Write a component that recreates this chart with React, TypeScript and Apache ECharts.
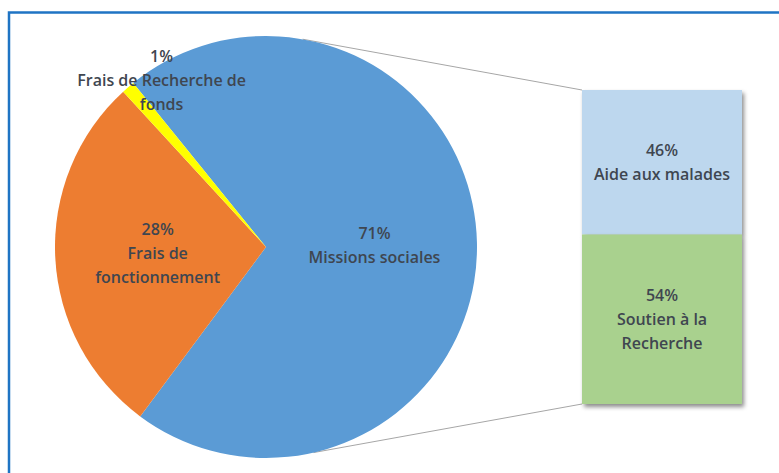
import React, { useEffect, useRef } from 'react';
import * as echarts from 'echarts';

const pieNames = ['Missions sociales', 'Frais de\nfonctionnement', 'Frais de Recherche de\nfonds'];
const pieValues = [71, 28, 1];
const pieColors = ['#5B9BD5', '#ED7D31', '#FFFF00'];

const barCategory = ['Missions sociales'];
const barNames = ['Soutien à la\nRecherche', 'Aide aux malades'];
const barValues = [54, 46];
const barColors = ['#A9D18E', '#BDD7EE'];

export default function App() {
  const ref = useRef<HTMLDivElement>(null);
  useEffect(() => {
    const chart = echarts.init(ref.current!, null, { renderer: 'svg' });
    const cx = 266, cy = 247, r = 211;
    const gLeft = 582, gTop = 90, gWidth = 160, gHeight = 314;
    const font = { fontFamily: 'Open Sans', fontSize: 16, fontWeight: 600, color: '#3F4650', lineHeight: 24 };

    const degToPt = (deg: number, rad: number) => {
      const a = (deg * Math.PI) / 180;
      return [cx + rad * Math.sin(a), cy - rad * Math.cos(a)];
    };
    const pTop = degToPt(10, r);
    const pBot = degToPt(167, r);
    const smallLabel = degToPt(328, 197);

    chart.setOption({
      animation: false,
      grid: { left: gLeft, top: gTop, width: gWidth, height: gHeight },
      xAxis: { type: 'category', data: barCategory, show: false },
      yAxis: { type: 'value', min: 0, max: 100, show: false },
      series: [
        {
          type: 'pie',
          center: [cx, cy],
          radius: r,
          startAngle: 129,
          clockwise: true,
          data: pieNames.map((n, i) => ({ name: n, value: pieValues[i], itemStyle: { color: pieColors[i] } })),
          label: { show: true, position: 'inside', formatter: '{c}%\n{b}', ...font },
          labelLine: { show: false },
          labelLayout: (p: any) => {
            if (p.dataIndex === 2) {
              return { x: smallLabel[0], y: smallLabel[1], align: 'center', verticalAlign: 'middle' };
            }
            return {};
          },
        },
        ...barNames.map((n, i) => ({
          type: 'bar',
          name: n,
          stack: 'split',
          barWidth: '100%',
          z: i === 0 ? 3 : 2,
          data: [barValues[i]],
          itemStyle: {
            color: barColors[i],
            shadowColor: 'rgba(0,0,0,0.45)',
            shadowBlur: 4,
            shadowOffsetX: 2,
            shadowOffsetY: 3,
          },
          label: { show: true, position: 'inside', formatter: '{c}%\n{a}', ...font },
        })),
      ],
    });

    const yTop = chart.convertToPixel({ yAxisIndex: 0 }, 100) as number;
    const yBot = chart.convertToPixel({ yAxisIndex: 0 }, 0) as number;

    chart.setOption({
      graphic: [
        {
          type: 'rect',
          shape: { x: 9, y: 12.5, width: 800, height: 500 },
          style: { fill: 'none', stroke: '#1F74C4', lineWidth: 2.5 },
          silent: true,
        },
        {
          type: 'line',
          shape: { x1: pTop[0], y1: pTop[1], x2: gLeft, y2: yTop },
          style: { stroke: '#A6A6A6', lineWidth: 1 },
          silent: true,
        },
        {
          type: 'line',
          shape: { x1: pBot[0], y1: pBot[1], x2: gLeft, y2: yBot },
          style: { stroke: '#A6A6A6', lineWidth: 1 },
          silent: true,
        },
      ],
    });

    return () => chart.dispose();
  }, []);
  return <div ref={ref} style={{ position: 'absolute', left: 0, top: 0, width: 779, height: 473 }} />;
}
